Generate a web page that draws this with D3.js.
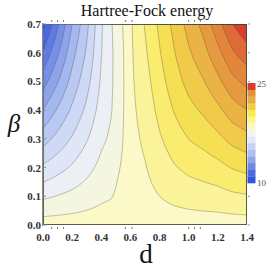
<!DOCTYPE html>
<html><head><meta charset="utf-8">
<script src="https://cdn.jsdelivr.net/npm/d3@7"></script>
<style>
html,body{margin:0;padding:0;background:#fff;}
svg{display:block;}
text{font-family:'Liberation Serif','DejaVu Serif',serif;}
</style></head>
<body><svg id="c" width="276" height="275"></svg>
<script>
// ---- data ----
const dVals = [0,0.1,0.2,0.3,0.4,0.47,0.51,0.545,0.575,0.6,0.7,0.8,0.9,1.0,1.1,1.2,1.3,1.4];
const betaVals = [0,0.05,0.1,0.15,0.2,0.3,0.4,0.5,0.6,0.7];
const energy00 = [17.85,17.85,17.85,17.85,17.85,17.85,17.85,17.85,17.85,17.85,17.85,17.85,17.85,17.85,17.85,17.85,17.85,17.85];
const energy05 = [17.25,17.33,17.41,17.51,17.61,17.65,17.73,17.76,17.82,17.88,17.93,18.03,18.11,18.17,18.21,18.24,18.31,18.35];
const energy10 = [16.67,16.83,16.99,17.18,17.38,17.47,17.61,17.68,17.80,17.90,18.00,18.20,18.37,18.49,18.55,18.63,18.76,18.84];
const energy15 = [16.09,16.33,16.58,16.87,17.18,17.30,17.51,17.62,17.77,17.93,18.08,18.36,18.61,18.78,18.89,19.01,19.21,19.32];
const energy20 = [15.52,15.85,16.19,16.58,16.99,17.16,17.43,17.56,17.75,17.95,18.16,18.52,18.84,19.07,19.21,19.38,19.64,19.81];
const energy30 = [14.40,14.93,15.47,16.04,16.66,16.93,17.29,17.47,17.72,17.99,18.31,18.82,19.26,19.61,19.83,20.12,20.52,20.76];
const energy40 = [13.32,14.07,14.83,15.56,16.39,16.77,17.19,17.41,17.71,18.03,18.47,19.09,19.64,20.09,20.41,20.83,21.37,21.69];
const energy50 = [12.28,13.25,14.25,15.15,16.20,16.69,17.15,17.40,17.70,18.06,18.63,19.33,19.98,20.53,20.95,21.53,22.20,22.62];
const energy60 = [11.26,12.49,13.75,14.80,16.07,16.68,17.15,17.42,17.71,18.08,18.79,19.55,20.26,20.91,21.45,22.20,23.01,23.51];
const energy70 = [10.28,11.77,13.31,14.52,16.02,16.75,17.21,17.49,17.72,18.10,18.95,19.74,20.50,21.25,21.91,22.85,23.80,24.40];
const xTicks = [0,0.2,0.4,0.6,0.8,1.0,1.2,1.4];
const yTicks = [0,0.1,0.2,0.3,0.4,0.5,0.6,0.7];
const frameTicks = [0.06,0.1,0.14,0.565,0.61,1.0,1.04,1.08];
const legendLabels = [10,25];
const contourLevels = d3.range(20).map(k => +(10.5 + 0.7*k).toFixed(2));
const legendSteps = d3.range(15).map(k => 10 + k);
// ---- styles ----
const bandColors = ["#3550dc","#4a66e0","#5f7ae4","#7690e8","#8da4ec","#a3b7f0","#b9c9f3","#cdd9f6","#dfe6f8","#ecf0f5","#f5f6e2","#fcf9c8","#fbf39a","#f9ec6e","#f5e054","#f0ca48","#ebb343","#e69a3f","#e3853a","#de6a35","#d83e30"];
const legendColors = ["#3550dc","#4d6be0","#6e89e4","#8fa5eb","#aebef0","#c8d2f4","#e2e8f8","#f2f4ee","#fbf8c8","#fbf58f","#f8e94f","#f2cc47","#eaad42","#e68f3a","#d83a2e"];
const SERIF = "'Liberation Serif','DejaVu Serif',serif";

const energyRows = [energy00,energy05,energy10,energy15,energy20,energy30,energy40,energy50,energy60,energy70];

const svg = d3.select("#c");
const x = d3.scaleLinear([0,1.4],[43,247]);
const y = d3.scaleLinear([0,0.7],[225,24]);

// bilinear sampling of the read grid (for smooth rendering)
function sample(d,b){
  let i = Math.min(Math.max(d3.bisectRight(dVals,d)-1,0),dVals.length-2);
  let j = Math.min(Math.max(d3.bisectRight(betaVals,b)-1,0),betaVals.length-2);
  const tx = (d-dVals[i])/(dVals[i+1]-dVals[i]);
  const ty = (b-betaVals[j])/(betaVals[j+1]-betaVals[j]);
  const r0 = energyRows[j], r1 = energyRows[j+1];
  const a = r0[i]*(1-tx)+r0[i+1]*tx;
  const c = r1[i]*(1-tx)+r1[i+1]*tx;
  return a*(1-ty)+c*ty;
}
const nx = 281, ny = 141;
const grid = new Array(nx*ny);
for(let j=0;j<ny;j++) for(let i=0;i<nx;i++){
  grid[j*nx+i] = sample(1.4*i/(nx-1), 0.7*j/(ny-1));
}
const gx = g => x(1.4*Math.min(Math.max(g-0.5,0),nx-1)/(nx-1));
const gy = g => y(0.7*Math.min(Math.max(g-0.5,0),ny-1)/(ny-1));
const path = d3.geoPath(d3.geoTransform({point:function(px,py){this.stream.point(gx(px),gy(py));}}));
const contours = d3.contours().size([nx,ny]).thresholds(contourLevels)(grid);

svg.append("defs").append("clipPath").attr("id","clip")
  .append("rect").attr("x",x(0)).attr("y",y(0.7)).attr("width",x(1.4)-x(0)).attr("height",y(0)-y(0.7));
const plot = svg.append("g").attr("clip-path","url(#clip)");
plot.append("rect").attr("x",x(0)).attr("y",y(0.7)).attr("width",x(1.4)-x(0)).attr("height",y(0)-y(0.7)).attr("fill",bandColors[0]);
plot.selectAll("path.band").data(contours).join("path").attr("class","band")
  .attr("d",path).attr("fill",(c,k)=>bandColors[k+1]).attr("stroke","none");
plot.selectAll("path.line").data(contours).join("path").attr("class","line")
  .attr("d",path).attr("fill","none").attr("stroke","rgba(80,80,60,0.6)").attr("stroke-width",0.6);

// left axis
const ax = svg.append("g").attr("stroke","#8a8a8a").attr("stroke-width",1);
ax.append("line").attr("x1",x(0)-0.5).attr("x2",x(0)-0.5).attr("y1",y(0.7)-1).attr("y2",y(0)+1);
yTicks.forEach(t=>ax.append("line").attr("x1",x(0)-0.5).attr("x2",x(0)+3).attr("y1",y(t)).attr("y2",y(t)));
d3.range(0.05,0.7,0.1).forEach(t=>ax.append("line").attr("x1",x(0)-0.5).attr("x2",x(0)+1.5).attr("y1",y(t)).attr("y2",y(t)));
frameTicks.forEach(t=>{
  ax.append("line").attr("x1",x(t)).attr("x2",x(t)).attr("y1",y(0)+2).attr("y2",y(0)+4).attr("stroke","#777");
  ax.append("line").attr("x1",x(t)).attr("x2",x(t)).attr("y1",y(0.7)-4).attr("y2",y(0.7)-2).attr("stroke","#777");
});
yTicks.forEach(t=>ax.append("line").attr("x1",x(1.4)+1).attr("x2",x(1.4)+3).attr("y1",y(t)).attr("y2",y(t)).attr("stroke","#999"));

svg.append("g").selectAll("text").data(yTicks).join("text")
  .attr("font-family",SERIF)
  .attr("x",x(0)-2).attr("y",t=>y(t)+4).attr("text-anchor","end")
  .attr("font-size",11).attr("font-weight","bold").attr("fill","#333").text(t=>t.toFixed(1));
svg.append("g").selectAll("text").data(xTicks).join("text")
  .attr("font-family",SERIF)
  .attr("x",t=>x(t)).attr("y",241).attr("text-anchor","middle")
  .attr("font-size",11).attr("font-weight","bold").attr("fill","#333").text(t=>t.toFixed(1));

// titles
svg.append("text").attr("font-family",SERIF).attr("x",147).attr("y",16).attr("text-anchor","middle").attr("font-size",16).attr("fill","#111").text("Hartree-Fock energy");
svg.append("text").attr("font-family",SERIF).attr("x",146).attr("y",263).attr("text-anchor","middle").attr("font-size",27).attr("fill","#111").text("d");
svg.append("text").attr("font-family",SERIF).attr("x",14).attr("y",132).attr("text-anchor","middle").attr("font-size",25).attr("font-style","italic").attr("fill","#111").text("β");

// legend
const ly = d3.scaleLinear([10,25],[183,83]);
const lg = svg.append("g");
lg.selectAll("rect").data(legendSteps).join("rect")
  .attr("x",247.5).attr("width",8).attr("y",v=>ly(v+1)).attr("height",v=>ly(v)-ly(v+1)+0.3)
  .attr("fill",(v,i)=>legendColors[i]);
lg.selectAll("text").data(legendLabels).join("text")
  .attr("font-family",SERIF)
  .attr("x",257).attr("y",v=>ly(v)+(v===25?4:3)).attr("font-size",9).attr("fill","#555").text(v=>v);
</script></body></html>
